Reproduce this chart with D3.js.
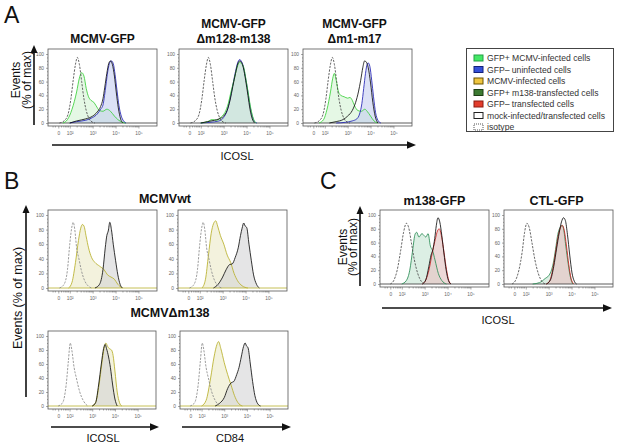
<!DOCTYPE html>
<html><head><meta charset="utf-8">
<script src="https://cdn.jsdelivr.net/npm/d3@7"></script>
<style>
body{margin:0;background:#fff}
svg{display:block;font-family:"Liberation Sans",Arial,sans-serif}
</style></head>
<body><svg id="c" width="617" height="445"></svg>
<script>
// ---------- data (decade position on biexponential axis, % of max) ----------
const xTickValues = [1.5, 2, 3, 4, 5];
const xTickLabels = ["0", "10\u00b2", "10\u00b3", "10\u2074", "10\u2075"];
const yTickValues = [0, 20, 40, 60, 80, 100];
const legendLabels = ["GFP+ MCMV-infected cells","GFP\u2013 uninfected cells","MCMV-infected cells",
  "GFP+ m138-transfected cells","GFP\u2013 transfected cells","mock-infected/transfected cells","isotype"];
const titlesA = [["MCMV-GFP"],["MCMV-GFP","\u0394m128-m138"],["MCMV-GFP","\u0394m1-m17"]];
const titlesC = ["m138-GFP","CTL-GFP"];

// Panel A1 MCMV-GFP
const a1Iso   = [[1.55,0],[1.75,3],[1.92,12],[2.05,35],[2.15,62],[2.25,85],[2.33,95],[2.42,85],[2.52,60],[2.62,35],[2.72,18],[2.85,6],[3.0,1],[3.1,0]];
const a1Green = [[1.7,0],[1.9,5],[2.1,20],[2.3,45],[2.42,65],[2.52,73],[2.62,68],[2.72,50],[2.82,38],[2.92,33],[3.05,30],[3.15,25],[3.3,18],[3.45,17],[3.62,20],[3.78,17],[3.95,10],[4.1,5],[4.3,1],[4.45,0]];
const a1Blue  = [[2.0,0],[2.3,2],[2.7,4],[3.0,8],[3.2,13],[3.35,20],[3.45,26],[3.52,40],[3.58,55],[3.66,75],[3.75,88],[3.82,90],[3.9,86],[3.98,70],[4.06,48],[4.15,25],[4.25,10],[4.35,3],[4.45,0]];
const a1Mock  = [[2.0,0],[2.3,3],[2.7,6],[3.0,10],[3.2,16],[3.35,24],[3.45,35],[3.53,52],[3.62,72],[3.7,86],[3.78,90],[3.86,85],[3.95,68],[4.03,45],[4.12,22],[4.22,6],[4.32,0]];
// Panel A2 MCMV-GFP Δm128-m138
const a2Iso   = [[1.55,0],[1.75,3],[1.92,12],[2.05,35],[2.15,62],[2.25,85],[2.33,95],[2.42,85],[2.52,60],[2.62,35],[2.72,18],[2.85,6],[3.0,1],[3.1,0]];
const a2Green = [[2.0,0],[2.3,2],[2.5,5],[2.7,4],[2.9,9],[3.05,15],[3.2,28],[3.32,45],[3.45,62],[3.58,80],[3.7,88],[3.78,86],[3.88,80],[3.98,62],[4.08,42],[4.18,22],[4.3,6],[4.42,0]];
const a2Blue  = [[2.0,0],[2.4,1],[2.8,3],[3.0,8],[3.15,18],[3.28,35],[3.4,55],[3.52,75],[3.62,88],[3.7,92],[3.78,89],[3.86,82],[3.96,65],[4.06,45],[4.15,25],[4.25,10],[4.35,2],[4.45,0]];
const a2Mock  = [[2.0,0],[2.3,2],[2.6,4],[2.8,6],[3.0,10],[3.15,18],[3.28,33],[3.4,53],[3.52,72],[3.62,86],[3.7,90],[3.78,88],[3.86,80],[3.96,62],[4.06,40],[4.15,20],[4.25,6],[4.35,0]];
// Panel A3 MCMV-GFP Δm1-m17
const a3Iso   = [[1.55,0],[1.75,3],[1.92,12],[2.05,35],[2.15,62],[2.25,85],[2.33,95],[2.42,85],[2.52,60],[2.62,35],[2.72,18],[2.85,6],[3.0,1],[3.1,0]];
const a3Green = [[1.75,0],[1.95,5],[2.1,20],[2.25,45],[2.35,65],[2.42,72],[2.5,62],[2.6,45],[2.7,40],[2.85,38],[3.0,36],[3.1,37],[3.2,33],[3.3,25],[3.45,18],[3.6,17],[3.75,20],[3.85,17],[4.0,10],[4.15,3],[4.3,0]];
const a3Blue  = [[2.5,0],[2.9,1],[3.2,3],[3.4,6],[3.52,13],[3.62,28],[3.7,50],[3.78,72],[3.85,85],[3.9,87],[3.97,82],[4.05,62],[4.13,38],[4.22,15],[4.32,4],[4.45,0]];
const a3Mock  = [[2.2,0],[2.5,2],[2.8,5],[3.0,10],[3.2,18],[3.35,30],[3.47,45],[3.57,62],[3.66,80],[3.74,90],[3.82,88],[3.9,80],[4.0,58],[4.1,30],[4.2,10],[4.32,0]];
// Panel B MCMVwt ICOSL / CD84
const b1Iso    = [[1.55,0],[1.75,5],[1.9,25],[2.0,60],[2.1,85],[2.15,90],[2.22,80],[2.3,55],[2.4,40],[2.5,25],[2.65,10],[2.8,3],[2.95,0]];
const b1Yellow = [[1.95,0],[2.1,8],[2.25,35],[2.38,65],[2.48,82],[2.55,87],[2.62,85],[2.72,70],[2.82,55],[2.95,42],[3.1,35],[3.3,30],[3.5,25],[3.65,18],[3.8,15],[3.95,12],[4.1,5],[4.3,0]];
const b1Mock   = [[3.1,0],[3.3,5],[3.45,25],[3.55,55],[3.62,72],[3.68,78],[3.75,90],[3.82,80],[3.9,60],[4.0,38],[4.1,18],[4.2,5],[4.3,0]];
const b2Iso    = [[1.55,0],[1.75,5],[1.9,25],[2.0,60],[2.1,85],[2.15,90],[2.22,80],[2.3,55],[2.4,40],[2.5,25],[2.65,10],[2.8,3],[2.95,0]];
const b2Yellow = [[2.1,0],[2.25,12],[2.38,45],[2.5,75],[2.6,88],[2.7,92],[2.78,85],[2.9,72],[3.05,60],[3.2,45],[3.35,35],[3.5,20],[3.65,10],[3.85,3],[4.1,0]];
const b2Mock   = [[2.6,0],[2.8,5],[3.0,15],[3.15,25],[3.3,32],[3.42,33],[3.55,42],[3.68,55],[3.78,72],[3.85,82],[3.92,89],[3.98,85],[4.05,83],[4.15,60],[4.25,38],[4.35,18],[4.48,5],[4.6,0]];
// Panel B MCMVΔm138
const b3Iso    = [[1.5,0],[1.7,5],[1.85,30],[1.95,65],[2.03,90],[2.1,80],[2.2,55],[2.3,40],[2.45,20],[2.6,8],[2.8,0]];
const b3Yellow = [[3.0,0],[3.15,5],[3.3,30],[3.42,60],[3.52,82],[3.6,90],[3.68,85],[3.75,82],[3.85,80],[3.92,72],[4.0,50],[4.1,20],[4.2,5],[4.3,0]];
const b3Mock   = [[3.0,0],[3.15,5],[3.28,30],[3.4,60],[3.5,82],[3.57,88],[3.63,82],[3.72,70],[3.8,55],[3.9,30],[4.0,10],[4.1,0]];
const b4Iso    = [[1.5,0],[1.7,5],[1.85,30],[1.95,65],[2.03,90],[2.1,80],[2.2,55],[2.3,40],[2.45,20],[2.6,8],[2.8,0]];
const b4Yellow = [[2.0,0],[2.2,8],[2.4,40],[2.55,70],[2.68,88],[2.75,92],[2.85,82],[3.0,62],[3.15,45],[3.3,30],[3.45,15],[3.6,5],[3.8,0]];
const b4Mock   = [[2.6,0],[2.8,4],[3.0,12],[3.15,25],[3.3,33],[3.42,35],[3.55,45],[3.65,55],[3.75,70],[3.85,85],[3.92,90],[3.98,86],[4.05,83],[4.15,60],[4.25,35],[4.35,15],[4.48,3],[4.6,0]];
// Panel C m138-GFP / CTL-GFP
const c1Iso    = [[1.5,0],[1.65,5],[1.8,20],[1.95,48],[2.08,75],[2.2,88],[2.3,82],[2.42,60],[2.55,35],[2.7,15],[2.85,4],[3.0,0]];
const c1DGreen = [[2.0,0],[2.2,5],[2.35,20],[2.48,50],[2.58,72],[2.65,75],[2.75,68],[2.88,73],[2.98,70],[3.05,68],[3.15,73],[3.25,55],[3.35,48],[3.45,35],[3.6,15],[3.75,5],[3.95,0]];
const c1Red    = [[2.9,0],[3.05,6],[3.2,22],[3.33,45],[3.46,64],[3.56,77],[3.64,80],[3.72,72],[3.82,52],[3.93,26],[4.03,8],[4.13,0]];
const c1Mock   = [[2.9,0],[3.05,6],[3.18,25],[3.28,42],[3.36,50],[3.44,66],[3.51,85],[3.58,96],[3.66,90],[3.75,70],[3.84,45],[3.94,20],[4.04,5],[4.15,0]];
const c2Iso    = [[1.4,0],[1.55,5],[1.7,20],[1.85,48],[1.95,75],[2.05,88],[2.15,82],[2.27,60],[2.4,35],[2.55,15],[2.7,4],[2.85,0]];
const c2DGreen = [[2.3,0],[2.6,2],[2.85,8],[3.0,12],[3.1,18],[3.2,30],[3.3,50],[3.4,72],[3.5,82],[3.58,85],[3.65,80],[3.75,55],[3.85,30],[3.95,10],[4.05,0]];
const c2Red    = [[2.9,0],[3.05,5],[3.2,25],[3.32,50],[3.42,70],[3.52,82],[3.6,85],[3.68,78],[3.78,55],[3.88,28],[3.98,8],[4.1,0]];
const c2Mock   = [[2.9,0],[3.08,6],[3.22,25],[3.35,52],[3.46,74],[3.56,90],[3.65,96],[3.73,92],[3.82,72],[3.92,42],[4.02,16],[4.12,4],[4.22,0]];

// ---------- styles ----------
const ST = {
  iso:    {stroke:"#4a4a4a", dash:"2.2,1.3", fill:"none"},
  isoL:   {stroke:"#8a8a8a", dash:"2.2,1.3", fill:"none"},
  mockA:  {stroke:"#111", fill:"none"},
  mockB:  {stroke:"#111", fill:"#d4d4d6", op:0.6},
  green:  {stroke:"#3ad03a", fill:"#c6f0c6", op:0.45},
  blue:   {stroke:"#2525b5", fill:"#bfc8ee", op:0.55},
  yellow: {stroke:"#b8b02c", fill:"#eeedcf", op:0.7},
  dgreen: {stroke:"#2a8c55", fill:"#cde8d8", op:0.7},
  red:    {stroke:"#cc2424", fill:"#e6c8c6", op:0.7}
};

const svg = d3.select("#c");
const FONT = "'Liberation Sans',Arial,sans-serif";

function panel(p){
  const x = d3.scaleLinear().domain([1.05, 5.81]).range([p.x0, p.x1]);
  const y = d3.scaleLinear().domain([0, 100]).range([p.y1 - 3, p.y0 + 5]);
  const g = svg.append("g");
  const id = "clip" + Math.round(p.x0) + "_" + Math.round(p.y0);
  g.append("clipPath").attr("id", id).append("rect")
    .attr("x", p.x0).attr("y", p.y0).attr("width", p.x1 - p.x0).attr("height", p.y1 - p.y0);
  const area = d3.area().x(d => x(d[0])).y0(y(0)).y1(d => y(d[1])).curve(d3.curveMonotoneX);
  const line = d3.line().x(d => x(d[0])).y(d => y(d[1])).curve(d3.curveMonotoneX);
  const plot = g.append("g").attr("clip-path", `url(#${id})`);
  p.series.forEach(s => {
    const st = ST[s.st];
    if (st.fill !== "none") plot.append("path").attr("d", area(s.data))
      .attr("fill", st.fill).attr("fill-opacity", st.op);
  });
  plot.append("line").attr("x1", p.x0).attr("x2", p.x1).attr("y1", y(0)).attr("y2", y(0))
    .attr("stroke", p.baseColor || "#333").attr("stroke-width", 0.8);
  p.series.forEach(s => {
    const st = ST[s.st];
    plot.append("path").attr("d", line(s.data)).attr("fill", "none")
      .attr("stroke", st.stroke).attr("stroke-width", 0.85)
      .attr("stroke-dasharray", st.dash || null).attr("stroke-linejoin", "round");
  });
  g.append("rect").attr("x", p.x0).attr("y", p.y0).attr("width", p.x1 - p.x0).attr("height", p.y1 - p.y0)
    .attr("fill", "none").attr("stroke", "#555").attr("stroke-width", 0.8);
  g.append("g").attr("transform", `translate(0,${p.y1})`)
    .call(d3.axisBottom(x).tickValues(xTickValues).tickSize(2.5).tickPadding(3.5)
      .tickFormat((d, i) => xTickLabels[i]));
  const minors = [];
  [2,3,4].forEach(k => { for (let m = 2; m <= 9; m++) minors.push(k + Math.log10(m)); });
  [1.25,1.35,1.62,1.72,1.8,1.86,1.92].forEach(v => minors.push(v));
  g.append("g").attr("transform", `translate(0,${p.y1})`)
    .call(d3.axisBottom(x).tickValues(minors).tickSize(1.5).tickFormat(""))
    .call(a => a.select(".domain").remove());
  g.append("g").attr("transform", `translate(${p.x0},0)`)
    .call(d3.axisLeft(y).tickValues(yTickValues).tickSize(2).tickPadding(2));
  const yMinor = d3.range(0, 101, 5).filter(v => v % 20);
  g.append("g").attr("transform", `translate(${p.x0},0)`)
    .call(d3.axisLeft(y).tickValues(yMinor).tickSize(1).tickFormat(""))
    .call(a => a.select(".domain").remove());
  g.selectAll(".domain").remove();
  g.selectAll(".tick line").attr("stroke", "#555").attr("stroke-width", 0.5);
  g.selectAll(".tick text").attr("font-size", 4.8).attr("fill", "#666").attr("font-family", FONT);
}

function arrowV(x, yBottom, yTop, w){
  svg.append("line").attr("x1", x).attr("x2", x).attr("y1", yBottom).attr("y2", yTop + 6)
    .attr("stroke", "#111").attr("stroke-width", w);
  svg.append("path").attr("d", `M${x},${yTop} L${x-3.5},${yTop+8} L${x+3.5},${yTop+8}Z`).attr("fill", "#111");
}
function arrowH(y, xLeft, xRight, w){
  svg.append("line").attr("x1", xLeft).attr("x2", xRight - 6).attr("y1", y).attr("y2", y)
    .attr("stroke", "#111").attr("stroke-width", w);
  svg.append("path").attr("d", `M${xRight},${y} L${xRight-9},${y-3.8} L${xRight-9},${y+3.8}Z`).attr("fill", "#111");
}
function text(x, y, t, size, opts = {}){
  return svg.append("text").attr("x", x).attr("y", y).text(t).attr("font-size", size)
    .attr("font-family", FONT).attr("text-anchor", opts.anchor || "middle")
    .attr("font-weight", opts.bold ? "bold" : "normal").attr("fill", opts.fill || "#111")
    .attr("transform", opts.rot ? `rotate(-90,${x},${y})` : null);
}

// ---------- Panel A ----------
text(4, 23, "A", 23, {anchor:"start"});
const aBoxes = [[48,157],[179,288],[303,412]];
const aSeries = [
  [{data:a1Green,st:"green"},{data:a1Blue,st:"blue"},{data:a1Mock,st:"mockA"},{data:a1Iso,st:"iso"}],
  [{data:a2Blue,st:"blue"},{data:a2Green,st:"green"},{data:a2Mock,st:"mockA"},{data:a2Iso,st:"iso"}],
  [{data:a3Green,st:"green"},{data:a3Blue,st:"blue"},{data:a3Mock,st:"mockA"},{data:a3Iso,st:"iso"}]
];
aBoxes.forEach((b, i) => {
  panel({x0:b[0], x1:b[1], y0:49, y1:126, series:aSeries[i]});
  const cx = (b[0] + b[1]) / 2 + (i === 2 ? -3 : 0);
  const t = titlesA[i];
  if (t.length === 1) text(cx, 43, t[0], 12, {bold:true});
  else { text(cx, 28, t[0], 12, {bold:true}); text(cx, 43, t[1], 12, {bold:true}); }
});
arrowV(34, 125, 45, 1.6);
text(19.5, 80, "Events", 12, {rot:true});
text(30.5, 80, "(% of max)", 12, {rot:true});
arrowH(145, 52, 416, 1.6);
text(237, 160, "ICOSL", 11);

// legend
const lg = svg.append("g");
lg.append("rect").attr("x", 466.5).attr("y", 48.5).attr("width", 147).attr("height", 83)
  .attr("fill", "#fff").attr("stroke", "#444").attr("stroke-width", 1);
const sw = [
  {f:"#44e866", s:"#22a044"},{f:"#3550d8", s:"#13207a"},{f:"#efc640", s:"#6a5200"},
  {f:"#3c7a32", s:"#1d3d14"},{f:"#e23c2c", s:"#8c1a10"},{f:"#fff", s:"#222"},{f:"#fff", s:"#555", dash:"1,1"}
];
legendLabels.forEach((l, i) => {
  const yy = 58 + i * 11.5;
  lg.append("rect").attr("x", 474).attr("y", yy - 3).attr("width", 9).attr("height", 6)
    .attr("fill", sw[i].f).attr("stroke", sw[i].s).attr("stroke-width", 1)
    .attr("stroke-dasharray", sw[i].dash || null);
  lg.append("text").attr("x", 487).attr("y", yy + 3).text(l).attr("font-size", 8.6)
    .attr("font-family", FONT).attr("fill", "#333");
});

// ---------- Panel B ----------
text(4, 189, "B", 23, {anchor:"start"});
text(165, 203, "MCMVwt", 12.5, {bold:true});
text(170, 317, "MCMV\u0394m138", 12.5, {bold:true});
panel({x0:48, x1:157, y0:210, y1:291, series:[{data:b1Yellow,st:"yellow"},{data:b1Mock,st:"mockB"},{data:b1Iso,st:"isoL"}], baseColor:"#b8b02c"});
panel({x0:178, x1:287, y0:210, y1:291, series:[{data:b2Yellow,st:"yellow"},{data:b2Mock,st:"mockB"},{data:b2Iso,st:"isoL"}], baseColor:"#b8b02c"});
panel({x0:48, x1:156, y0:331, y1:409, series:[{data:b3Yellow,st:"yellow"},{data:b3Mock,st:"mockB"},{data:b3Iso,st:"isoL"}], baseColor:"#b8b02c"});
panel({x0:180, x1:288, y0:331, y1:409, series:[{data:b4Yellow,st:"yellow"},{data:b4Mock,st:"mockB"},{data:b4Iso,st:"isoL"}], baseColor:"#b8b02c"});
arrowV(26, 397, 205, 1.6);
text(21.5, 298, "Events (% of max)", 12.5, {rot:true});
arrowH(427, 51, 159, 1.6);
arrowH(427, 182, 291, 1.6);
text(103, 442, "ICOSL", 11);
text(230, 442, "CD84", 11);

// ---------- Panel C ----------
text(320, 189, "C", 23, {anchor:"start"});
const cBoxes = [[380,489],[504,613]];
const cSeries = [
  [{data:c1DGreen,st:"dgreen"},{data:c1Red,st:"red"},{data:c1Mock,st:"mockA"},{data:c1Iso,st:"iso"}],
  [{data:c2DGreen,st:"dgreen"},{data:c2Red,st:"red"},{data:c2Mock,st:"mockA"},{data:c2Iso,st:"iso"}]
];
cBoxes.forEach((b, i) => {
  panel({x0:b[0], x1:b[1], y0:210, y1:287, series:cSeries[i]});
  text((b[0] + b[1]) / 2 + (i ? -2 : 0), 205, titlesC[i], 12.5, {bold:true});
});
arrowV(360, 286, 206, 1.6);
text(347, 247, "Events", 12, {rot:true});
text(357, 247, "(% of max)", 12, {rot:true});
arrowH(308, 382, 612, 1.6);
text(498, 324, "ICOSL", 11);
</script></body></html>
